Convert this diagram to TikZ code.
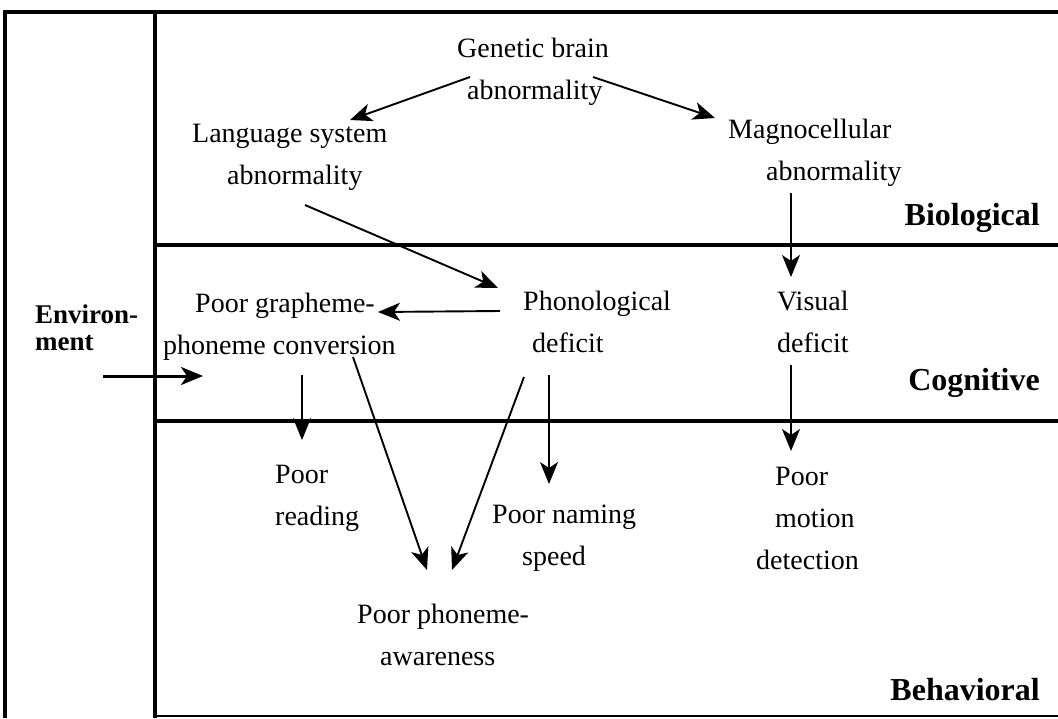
\documentclass[tikz,border=0pt]{standalone}
\usepackage{fontspec}
\setmainfont{Liberation Serif}
\usetikzlibrary{arrows.meta}
\newcommand{\twol}[2]{\vtop{\hbox{#1}\hbox{#2}}}
\newcommand{\threel}[3]{\vtop{\hbox{#1}\hbox{#2}\hbox{#3}}}
\begin{document}
\begin{tikzpicture}[x=1pt,y=-1pt,
  txt/.style={inner sep=0pt, anchor=base west, font=\fontsize{28}{42}\selectfont},
  lvl/.style={inner sep=0pt, anchor=base east, font=\fontsize{32}{38}\selectfont\bfseries},
  envtxt/.style={inner sep=0pt, anchor=base west, font=\fontsize{27}{27.5}\selectfont\bfseries},
  frame/.style={line width=3.2pt},
  thinframe/.style={line width=1.8pt},
  arr/.style={line width=1.9pt, -{Stealth[length=22pt,width=18pt,inset=6pt]}},
  thickarr/.style={line width=3pt, -{Stealth[length=22pt,width=18pt,inset=6pt]}},
]
\useasboundingbox (0,0) rectangle (1058,718);
% frame
\draw[frame] (5,718) -- (5,12) -- (1058,12);
\draw[frame] (155,12) -- (155,718);
\draw[frame] (155,245) -- (1058,245);
\draw[frame] (155,421) -- (1058,421);
\draw[thinframe] (155,716) -- (1058,716);
% level labels
\node[lvl] (bio) at (1040,225) {Biological};
\node[lvl] (cog) at (1040,390) {Cognitive};
\node[lvl] (beh) at (1040,700) {Behavioral};
\node[envtxt] (env) at (35,323) {\twol{Environ-}{ment}};
% concept nodes
\node[txt] (gen) at (457,57) {\twol{Genetic brain}{\kern10pt abnormality}};
\node[txt] (lang) at (192,142) {\twol{Language system}{\kern35pt abnormality}};
\node[txt] (magno) at (728,138) {\twol{Magnocellular}{\kern38pt abnormality}};
\node[txt] (phon) at (523,310) {\twol{Phonological}{\kern9pt deficit}};
\node[txt] (graph) at (163,312) {\twol{\kern32pt Poor grapheme-}{phoneme conversion}};
\node[txt] (vis) at (777,310) {\twol{Visual}{deficit}};
\node[txt] (read) at (275,483) {\twol{Poor}{reading}};
\node[txt] (name) at (492,523) {\twol{Poor naming}{\kern30pt speed}};
\node[txt] (aware) at (357,623) {\twol{Poor phoneme-}{\kern23pt awareness}};
\node[txt] (motion) at (756,485) {\threel{\kern19pt Poor}{\kern19pt motion}{detection}};
% connectors
\draw[arr] ([shift={(13,20)}]gen.base west) -- ([shift={(158,-22)}]lang.base west);
\draw[arr] ([shift={(136,20)}]gen.base west) -- ([shift={(-13,-20)}]magno.base west);
\draw[arr] ([shift={(113,63)}]lang.base west) -- ([shift={(-25,-22)}]phon.base west);
\draw[arr] ([shift={(-23,1)}]phon.base west) -- ([shift={(215,0)}]graph.base west);
\draw[arr] ([shift={(63,55)}]magno.base west) -- ([shift={(14,-33)}]vis.base west);
\draw[thickarr] ([shift={(68,53)}]env.base west) -- ([shift={(40,64)}]graph.base west);
\draw[arr] ([shift={(139,63)}]graph.base west) -- ([shift={(27,-43)}]read.base west);
\draw[arr] ([shift={(190,45)}]graph.base west) -- ([shift={(70,-53)}]aware.base west);
\draw[arr] ([shift={(1,67)}]phon.base west) -- ([shift={(95,-53)}]aware.base west);
\draw[arr] ([shift={(26,65)}]phon.base west) -- ([shift={(57,-39)}]name.base west);
\draw[arr] ([shift={(14,55)}]vis.base west) -- ([shift={(35,-34)}]motion.base west);
\end{tikzpicture}
\end{document}
